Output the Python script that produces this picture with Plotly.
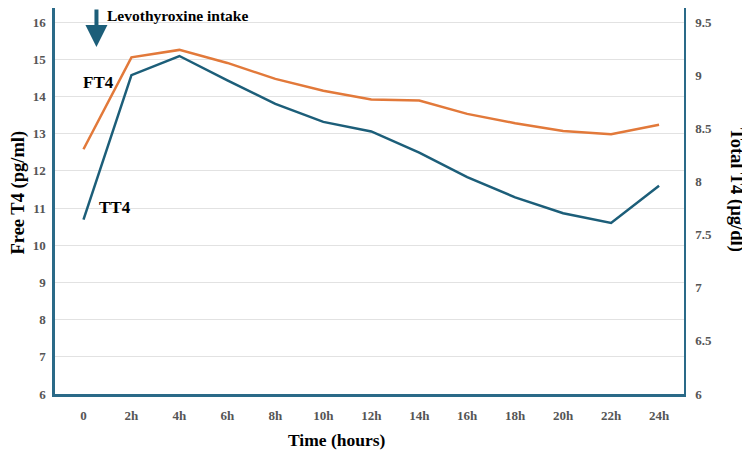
import plotly.graph_objects as go

time_labels = ["0", "2h", "4h", "6h", "8h", "10h", "12h", "14h", "16h", "18h", "20h", "22h", "24h"]
ft4_values = [12.58, 15.05, 15.25, 14.9, 14.47, 14.15, 13.92, 13.89, 13.53, 13.28, 13.07, 12.98, 13.24]
tt4_values = [7.64, 9.0, 9.18, 8.95, 8.73, 8.56, 8.47, 8.27, 8.04, 7.85, 7.70, 7.61, 7.96]
left_ticks = [6, 7, 8, 9, 10, 11, 12, 13, 14, 15, 16]
right_ticks = [6, 6.5, 7, 7.5, 8, 8.5, 9, 9.5]

ORANGE = "#E2793A"
BLUE = "#1C5E79"
AXIS = "#2A6A88"
FONT = "Liberation Serif, Times New Roman, DejaVu Serif, serif"

# page body has an 8px margin; work in reference pixel coords and offset
OFF = 8
W, H = 750 - OFF, 451 - OFF
# reference pixel positions of plot area
RL, RR, RT, RB = 54.5, 684, OFF, 394
L, R, T, B = RL - OFF, RR - OFF, RT - OFF, RB - OFF
unit = 37.2
left_top = 16 + (22 - RT) / unit
right_top = 6 + (left_top - 6) * 0.35

fig = go.Figure()
fig.add_trace(go.Scatter(x=time_labels, y=ft4_values, mode="lines", name="FT4",
                         line=dict(color=ORANGE, width=2.5), yaxis="y"))
fig.add_trace(go.Scatter(x=time_labels, y=tt4_values, mode="lines", name="TT4",
                         line=dict(color=BLUE, width=2.5), yaxis="y2"))

tickfont = dict(family=FONT, size=13, color="#555555", weight="bold")

fig.update_layout(
    width=W, height=H,
    margin=dict(l=L, r=W - R, t=T, b=H - B, pad=0),
    paper_bgcolor="white", plot_bgcolor="white",
    showlegend=False,
    font=dict(family=FONT),
    xaxis=dict(type="category", range=[-0.594, 12.52], showgrid=False,
               showline=True, linecolor=AXIS, linewidth=2.5,
               ticks="outside", ticklen=8, tickcolor="rgba(0,0,0,0)",
               tickfont=tickfont, zeroline=False),
    yaxis=dict(range=[6, left_top], tickvals=left_ticks, showgrid=True,
               gridcolor="#E2E2E2", gridwidth=1, showline=True, linecolor=AXIS,
               linewidth=2.5, ticks="outside", ticklen=4, tickcolor="rgba(0,0,0,0)",
               tickfont=tickfont, zeroline=False),
    yaxis2=dict(range=[6, right_top], tickvals=right_ticks, overlaying="y", side="right",
                showgrid=False, showline=True, linecolor=AXIS, linewidth=1.5,
                ticks="outside", ticklen=7, tickcolor="rgba(0,0,0,0)",
                tickfont=tickfont, zeroline=False),
)

def px(xp):
    return (xp - RL) / (RR - RL)

def py(yp):
    return (RB - yp) / (RB - RT)

ann = []
ann.append(dict(text="<b>Free T4 (pg/ml)</b>", x=px(17), y=py(193), xref="paper", yref="paper",
                textangle=-90, showarrow=False, font=dict(family=FONT, size=18.5, color="black"),
                xanchor="center", yanchor="middle"))
ann.append(dict(text="<b>Total T4 (µg/dl)</b>", x=px(737), y=py(190), xref="paper", yref="paper",
                textangle=90, showarrow=False, font=dict(family=FONT, size=18.5, color="black"),
                xanchor="center", yanchor="middle"))
ann.append(dict(text="<b>Time (hours)</b>", x=px(337), y=py(440), xref="paper", yref="paper",
                showarrow=False, font=dict(family=FONT, size=17.5, color="black"),
                xanchor="center", yanchor="middle"))
ann.append(dict(text="<b>FT4</b>", x=px(98), y=py(82), xref="paper", yref="paper",
                showarrow=False, font=dict(family=FONT, size=17, color="black"),
                xanchor="center", yanchor="middle"))
ann.append(dict(text="<b>TT4</b>", x=px(115), y=py(207), xref="paper", yref="paper",
                showarrow=False, font=dict(family=FONT, size=17, color="black"),
                xanchor="center", yanchor="middle"))
ann.append(dict(text="<b>Levothyroxine intake</b>", x=px(105), y=py(16), xref="paper", yref="paper",
                showarrow=False, font=dict(family=FONT, size=15.5, color="black"),
                xanchor="left", yanchor="middle"))
ann.append(dict(text="", x=px(96), y=py(47), ax=0, ay=-39, xref="paper", yref="paper",
                axref="pixel", ayref="pixel", showarrow=True, arrowhead=2, arrowsize=1.1,
                arrowwidth=4, arrowcolor=BLUE, standoff=0, startstandoff=0))
fig.update_layout(annotations=ann)

fig.write_html("out.html")
